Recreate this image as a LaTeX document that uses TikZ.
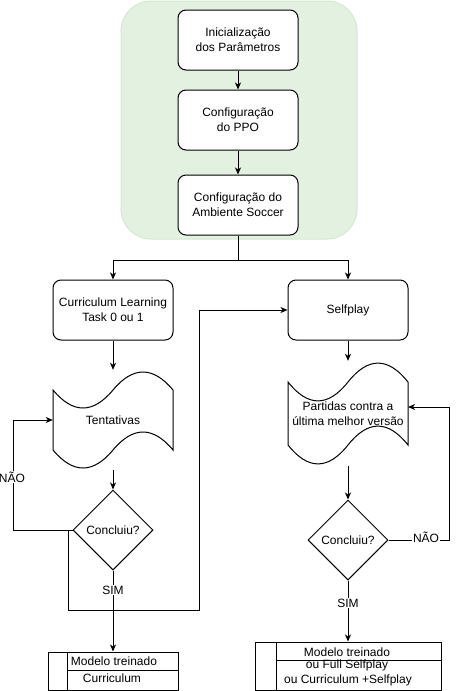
\documentclass[tikz,border=0pt]{standalone}
\usepackage{fontspec}
\setmainfont{Liberation Sans}
\usetikzlibrary{shapes.geometric,arrows.meta}
\definecolor{greenfill}{RGB}{227,241,224}
\definecolor{greenline}{RGB}{212,232,209}
\newcommand{\drawtapeoutline}[4]{%
  \draw[ln] (#1,{#2+0.2*#4})
    .. controls ({#1+#3/6},{#2+0.44*#4}) and ({#1+#3/3},{#2+0.44*#4}) .. ({#1+#3/2},{#2+0.2*#4})
    .. controls ({#1+2*#3/3},{#2-0.04*#4}) and ({#1+5*#3/6},{#2-0.04*#4}) .. ({#1+#3},{#2+0.2*#4})
    -- ({#1+#3},{#2+0.8*#4})
    .. controls ({#1+5*#3/6},{#2+0.56*#4}) and ({#1+2*#3/3},{#2+0.56*#4}) .. ({#1+#3/2},{#2+0.8*#4})
    .. controls ({#1+#3/3},{#2+1.04*#4}) and ({#1+#3/6},{#2+1.04*#4}) .. (#1,{#2+0.8*#4})
    -- cycle;}
\begin{document}
\begin{tikzpicture}[x=1pt,y=-1pt,
  ln/.style={line width=1pt,draw=black},
  arr/.style={line width=1pt,draw=black,-{Stealth[length=7pt,width=6pt,inset=2pt]}},
  txt/.style={font=\fontsize{12}{15}\selectfont,align=center,text=black},
  procbox/.style={txt,ln,rectangle,rounded corners=8pt,minimum width=120pt,minimum height=60pt,inner sep=0pt,fill=white},
  tapebox/.style={txt,rectangle,inner sep=0pt},
  decision/.style={txt,ln,diamond,minimum width=80pt,minimum height=80pt,inner sep=0pt,fill=white},
  lbl/.style={txt,fill=white,inner sep=1pt},
  outbox/.style={ln,rectangle,inner sep=0pt}
]
\useasboundingbox (0,0) rectangle (457,691);
% container
\draw[draw=greenline,fill=greenfill,line width=1pt,rounded corners=30pt] (121,1) rectangle (357,239);
% process boxes
\node[procbox] (init) at (238,40) {Inicialização\\dos Parâmetros};
\node[procbox] (ppo) at (238,120) {Configuração\\do PPO};
\node[procbox] (amb) at (238,205) {Configuração do\\Ambiente Soccer};
\node[procbox] (curr) at (113,310) {Curriculum Learning\\Task 0 ou 1};
\node[procbox] (self) at (348,310) {Selfplay};
% tapes
\drawtapeoutline{53}{370}{120}{100}
\node[tapebox,minimum width=120pt,minimum height=100pt] (tent) at (113,420) {Tentativas};
\drawtapeoutline{288}{361}{120}{105}
\node[tapebox,minimum width=120pt,minimum height=105pt] (part) at (348,413.5) {Partidas contra a\\última melhor versão};
% decisions
\node[decision] (dec1) at (113,530) {Concluiu?};
\node[decision] (dec2) at (348,540) {Concluiu?};
% output boxes
\node[outbox,minimum width=130pt,minimum height=38pt] (out1) at (113,671) {};
\draw[ln] (67,652) -- (67,690);
\draw[ln] (67,670) -- (178,670);
\node[txt] (out1a) at (114,661) {Modelo treinado};
\node[txt] (out1b) at (112,678) {Curriculum};
\node[outbox,minimum width=186pt,minimum height=48pt] (out2) at (348,666) {};
\draw[ln] (276,642) -- (276,690);
\draw[ln] (276,660) -- (441,660);
\node[txt] (out2a) at (347,652) {Modelo treinado};
\node[txt] (out2b) at (347,665.5) {ou Full Selfplay};
\node[txt] (out2c) at (348,680) {ou Curriculum +Selfplay};
% connectors
\draw[arr] (init.south) -- (ppo.north);
\draw[arr] (ppo.south) -- (amb.north);
\coordinate (branch) at (238,260);
\draw[ln] (amb.south) -- (branch);
\draw[arr] (branch) -| (curr.north);
\draw[arr] (branch) -| (self.north);
\draw[arr] (curr.south) -- (tent.north);
\draw[arr] (tent.south) -- (dec1.north);
\coordinate (loopL) at (13,530);
\draw[arr] (dec1.west) -- (loopL) |- (tent.west);
\node[lbl] (nao1) at (12,477) {NÃO};
\coordinate (sim1a) at (68,530);
\coordinate (sim1b) at (68,610);
\coordinate (sim1c) at (199,610);
\draw[arr] (sim1a) -- (sim1b) -- (sim1c) |- (self.west);
\draw[arr] (dec1.south) -- (out1.north);
\node[lbl] (sim1) at (113,590) {SIM};
\draw[arr] (self.south) -- (part.north);
\draw[arr] (part.south) -- (dec2.north);
\coordinate (loopR) at (449,540);
\coordinate (partin) at (408,407);
\draw[arr] (dec2.east) -- (loopR) |- (partin);
\node[lbl] (nao2) at (426,537) {NÃO};
\draw[arr] (dec2.south) -- (out2.north);
\node[lbl] (sim2) at (348,603) {SIM};
\end{tikzpicture}
\end{document}
